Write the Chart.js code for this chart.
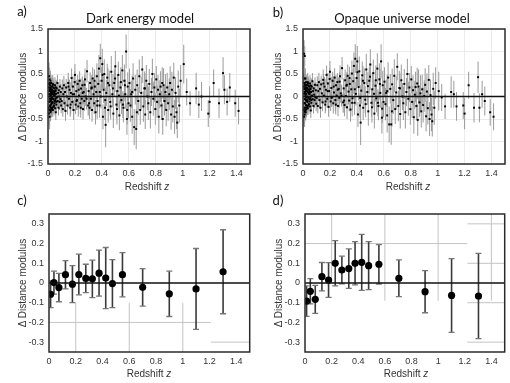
<!DOCTYPE html>
<html>
<head>
<meta charset="utf-8">
<script src="https://cdn.jsdelivr.net/npm/chart.js@4.4.1/dist/chart.umd.min.js"></script>
<style>
  body { margin: 0; background: #fff; width: 510px; height: 383px; position: relative; overflow: hidden;
         font-family: "Liberation Sans", Arial, sans-serif; }
  canvas { position: absolute; }
  .t { position: absolute; transform: translate(-50%, -50%); white-space: nowrap; }
  .panel { font-family: Lato, "Open Sans", sans-serif; font-size: 13px; color: #111; }
  .ax { font-size: 10px; color: #333; }
  .yt { position: absolute; transform: translate(-50%, -50%) rotate(-90deg); white-space: nowrap; font-size: 10px; color: #333; }
</style>
</head>
<body>
<canvas id="ca" width="255" height="190" style="left:0;top:0"></canvas>
<canvas id="cb" width="255" height="190" style="left:255px;top:0"></canvas>
<canvas id="cc" width="255" height="193" style="left:0;top:190px"></canvas>
<canvas id="cd" width="255" height="193" style="left:255px;top:190px"></canvas>

<div class="t panel" style="left:22px;top:11px">a)</div>
<div class="t panel" style="left:140px;top:18px">Dark energy model</div>
<div class="t panel" style="left:278px;top:12px">b)</div>
<div class="t panel" style="left:402px;top:18px">Opaque universe model</div>
<div class="t panel" style="left:22px;top:200px">c)</div>
<div class="t panel" style="left:278px;top:200px">d)</div>

<div class="yt" style="left:22px;top:97px">Δ Distance modulus</div>
<div class="yt" style="left:277px;top:97px">Δ Distance modulus</div>
<div class="yt" style="left:22px;top:283px">Δ Distance modulus</div>
<div class="yt" style="left:278px;top:283px">Δ Distance modulus</div>

<div class="t ax" style="left:147px;top:186px">Redshift <i>z</i></div>
<div class="t ax" style="left:408px;top:186px">Redshift <i>z</i></div>
<div class="t ax" style="left:149px;top:373px">Redshift <i>z</i></div>
<div class="t ax" style="left:406px;top:373px">Redshift <i>z</i></div>

<script>
// tick positions
const zTicks = [0, 0.2, 0.4, 0.6, 0.8, 1, 1.2, 1.4];
const residTicks = [-1.5, -1, -0.5, 0, 0.5, 1, 1.5];
const binTicks = [-0.3, -0.2, -0.1, 0, 0.1, 0.2, 0.3];

// individual supernovae (same objects in both models)
const snZ = [
  0.005,0.006,0.007,0.009,0.010,0.011,0.012,0.013,0.014,0.015,0.016,0.017,0.018,0.019,0.020,0.021,0.022,0.023,0.024,0.025,
  0.026,0.027,0.029,0.031,0.032,0.034,0.036,0.037,0.039,0.041,0.043,0.045,0.047,0.049,0.051,0.053,0.055,0.057,0.059,0.061,
  0.008,0.010,0.011,0.012,0.013,0.014,0.015,0.016,0.017,0.018,0.019,0.020,0.021,0.022,0.023,0.024,0.025,0.026,0.028,0.030,
  0.031,0.033,0.035,0.036,0.038,0.040,0.042,0.044,0.046,0.048,0.050,0.052,0.054,0.056,0.058,0.060,0.062,0.065,0.067,0.070,
  0.072,0.075,0.078,0.080,0.083,0.086,0.089,0.092,0.095,0.098,
  0.102,0.106,0.110,0.114,0.118,0.122,0.126,0.130,0.135,0.140,0.145,0.150,0.155,0.160,0.165,0.170,0.175,0.180,0.185,0.190,
  0.195,0.200,0.205,0.210,0.215,0.220,0.225,0.230,0.235,0.240,0.245,0.250,0.255,0.260,0.265,0.270,0.275,0.280,0.290,0.298,
  0.152,0.168,0.183,0.198,0.212,0.228,0.243,0.258,0.272,0.286,0.305,0.325,0.345,0.365,0.385,0.405,0.425,0.445,0.465,0.482,
  0.498,0.512,0.527,0.541,0.556,0.571,0.588,0.625,0.660,0.720,
  0.302,0.308,0.313,0.318,0.322,0.327,0.332,0.338,0.343,0.348,0.353,0.358,0.363,0.368,0.373,0.378,0.383,0.388,0.393,0.398,
  0.403,0.408,0.413,0.418,0.423,0.428,0.433,0.440,0.447,0.455,0.462,0.470,0.478,0.485,0.492,0.500,0.508,0.515,0.522,0.530,
  0.538,0.545,0.552,0.560,0.567,0.574,0.580,0.586,0.592,0.598,
  0.605,0.612,0.618,0.625,0.632,0.640,0.648,0.655,0.662,0.670,0.678,0.685,0.692,0.700,0.708,0.715,0.722,0.730,0.738,0.745,
  0.752,0.760,0.768,0.775,0.782,0.790,0.797,0.804,0.810,0.817,0.823,0.830,0.836,0.842,0.848,
  0.852,0.858,0.865,0.872,0.878,0.885,0.892,0.900,0.907,0.914,0.920,0.927,0.934,0.940,0.947,0.954,0.960,0.967,0.975,0.985,
  1.008,1.030,1.055,1.100,1.120,1.140,1.190,1.200,1.230,1.270,1.300,1.310,1.330,1.350,1.390,1.415
];
const snErr = [
  0.25,0.30,0.22,0.28,0.20,0.24,0.26,0.22,0.18,0.25,0.20,0.22,0.19,0.24,0.18,0.21,0.20,0.17,0.22,0.19,
  0.18,0.20,0.17,0.19,0.16,0.18,0.17,0.16,0.18,0.17,0.16,0.17,0.15,0.18,0.16,0.17,0.15,0.16,0.17,0.15,
  0.30,0.35,0.25,0.28,0.22,0.32,0.20,0.25,0.18,0.22,0.20,0.24,0.18,0.20,0.19,0.17,0.20,0.18,0.16,0.17,
  0.18,0.16,0.20,0.15,0.17,0.16,0.18,0.15,0.17,0.16,0.15,0.18,0.16,0.15,0.17,0.16,0.15,0.17,0.16,0.18,
  0.15,0.16,0.17,0.15,0.16,0.18,0.17,0.16,0.18,0.17,
  0.18,0.20,0.17,0.19,0.21,0.18,0.20,0.22,0.19,0.21,0.20,0.23,0.19,0.22,0.20,0.24,0.21,0.20,0.23,0.22,
  0.20,0.24,0.21,0.25,0.22,0.20,0.23,0.24,0.21,0.25,0.22,0.24,0.20,0.23,0.26,0.22,0.24,0.21,0.25,0.23,
  0.20,0.22,0.21,0.24,0.20,0.23,0.22,0.25,0.21,0.24,0.26,0.28,0.25,0.30,0.27,0.31,0.28,0.33,0.29,0.32,
  0.30,0.34,0.31,0.33,0.30,0.35,0.32,0.36,0.34,0.35,
  0.22,0.25,0.24,0.27,0.23,0.26,0.25,0.28,0.24,0.26,0.27,0.25,0.29,0.26,0.28,0.30,0.27,0.32,0.26,0.30,
  0.34,0.28,0.30,0.33,0.27,0.50,0.29,0.31,0.28,0.33,0.30,0.35,0.29,0.32,0.30,0.34,0.31,0.36,0.30,0.33,
  0.35,0.31,0.34,0.32,0.36,0.33,0.38,0.35,0.32,0.34,
  0.32,0.36,0.30,0.38,0.34,0.40,0.33,0.45,0.35,0.31,0.37,0.33,0.36,0.30,0.34,0.38,0.32,0.35,0.30,0.37,
  0.33,0.36,0.31,0.34,0.38,0.32,0.35,0.30,0.36,0.33,0.37,0.31,0.34,0.32,0.35,
  0.35,0.38,0.32,0.40,0.36,0.33,0.39,0.35,0.37,0.34,0.40,0.36,0.33,0.38,0.35,0.37,0.34,0.36,0.38,0.35,
  0.43,0.30,0.28,0.35,0.30,0.32,0.30,0.35,0.30,0.33,0.35,0.32,0.30,0.32,0.30,0.30
];
const darkResid = [
  -0.25,0.20,-0.38,0.05,0.28,-0.12,0.38,-0.30,0.15,-0.05,0.25,-0.22,0.00,0.18,-0.32,0.10,-0.08,0.30,-0.18,0.04,
  -0.28,0.16,-0.02,0.22,-0.14,0.08,-0.24,0.26,-0.06,0.12,-0.20,0.02,0.18,-0.10,0.06,-0.26,0.14,-0.04,0.20,-0.12,
  0.45,-0.30,0.12,-0.45,0.30,0.05,-0.20,0.20,-0.10,0.35,-0.35,0.02,0.15,-0.25,0.08,-0.05,0.22,-0.15,0.10,-0.28,
  0.15,-0.12,0.28,-0.30,0.05,-0.05,0.20,-0.22,0.10,-0.15,0.02,0.25,-0.08,0.12,-0.35,0.06,-0.18,0.18,-0.02,0.30,
  -0.10,0.08,-0.25,0.14,0.00,-0.12,0.22,-0.06,0.10,-0.20,
  -0.10,0.18,-0.28,0.05,0.25,-0.15,0.10,-0.32,0.20,0.00,-0.20,0.30,-0.05,0.15,-0.25,0.08,0.41,-0.12,0.22,-0.30,
  0.05,0.48,-0.18,0.12,-0.08,0.28,-0.22,0.02,0.35,-0.15,0.18,-0.05,0.25,-0.28,0.10,-0.10,0.38,0.00,0.56,-0.20,
  0.22,-0.18,0.05,0.32,-0.10,0.15,-0.25,0.08,0.26,-0.05,-0.15,0.20,0.35,-0.20,0.10,0.48,-0.08,0.30,-0.22,0.18,
  0.40,-0.28,0.02,0.32,-0.18,0.25,-0.30,0.10,-0.35,0.18,
  0.12,-0.25,0.30,-0.05,0.18,-0.30,0.40,0.05,-0.15,0.22,-0.35,0.10,0.45,-0.10,0.28,0.62,-0.20,0.85,0.00,0.35,
  0.72,-0.45,0.15,0.50,-0.25,-0.63,0.08,0.42,-0.30,0.25,-0.12,0.55,0.05,-0.38,0.30,0.67,-0.18,0.12,0.48,-0.42,
  0.20,-0.08,0.58,-0.25,0.35,0.05,1.00,-0.50,0.22,-0.15,
  0.30,-0.20,0.05,-0.45,0.40,-0.68,0.15,-0.72,0.25,-0.10,0.45,-0.30,0.08,0.60,-0.22,0.18,-0.40,0.35,0.00,-0.15,
  0.28,-0.35,0.10,0.50,-0.05,0.20,-0.28,0.38,-0.12,0.15,-0.45,0.05,0.22,-0.20,0.30,
  -0.50,0.25,-0.10,0.10,-0.30,0.20,-0.15,0.05,0.30,-0.40,0.15,-0.22,0.42,-0.45,0.08,-0.35,-0.58,0.22,-0.20,0.35,
  0.72,0.10,-0.15,0.18,-0.18,0.00,-0.38,-0.12,0.30,-0.15,0.52,0.15,-0.12,0.20,-0.15,-0.32
];
const opaqueResid = [
  -0.30,0.22,-0.45,0.06,0.30,-0.15,0.40,-0.34,0.16,-0.06,0.27,-0.25,0.01,0.20,-0.35,0.12,-0.08,0.32,-0.19,0.06,
  -0.28,0.18,0.00,0.25,-0.12,0.11,-0.21,0.29,-0.03,0.16,-0.17,0.06,0.22,-0.06,0.10,-0.22,0.18,0.00,0.24,-0.08,
  0.95,-0.25,0.18,-0.40,0.90,0.10,-0.15,0.25,-0.05,0.40,-0.30,0.06,0.20,-0.20,0.12,-0.02,0.26,-0.10,0.14,-0.24,
  0.19,-0.08,0.32,-0.26,0.09,-0.01,0.24,-0.18,0.14,-0.11,0.06,0.29,-0.04,0.16,-0.31,0.10,-0.14,0.22,0.02,0.34,
  -0.06,0.12,-0.21,0.18,0.04,-0.08,0.26,-0.02,0.14,-0.16,
  -0.03,0.25,-0.21,0.12,0.32,-0.08,0.17,-0.25,0.27,0.07,-0.13,0.37,0.02,0.22,-0.18,0.15,0.48,-0.05,0.29,-0.23,
  0.12,0.55,-0.11,0.19,-0.01,0.35,-0.15,0.09,0.42,-0.08,0.25,0.02,0.32,-0.21,0.17,-0.03,0.45,0.07,0.63,-0.13,
  0.29,-0.11,0.12,0.39,-0.03,0.22,-0.18,0.15,0.33,0.02,-0.09,0.26,0.41,-0.14,0.16,0.54,-0.03,0.35,-0.17,0.23,
  0.44,-0.24,0.06,0.36,-0.14,0.28,-0.27,0.12,-0.33,0.18,
  0.18,-0.19,0.36,0.01,0.24,-0.24,0.46,0.11,-0.09,0.28,-0.29,0.16,0.51,-0.04,0.34,0.68,-0.14,0.84,0.06,0.41,
  0.78,-0.40,0.21,0.56,-0.20,-0.58,0.13,0.47,-0.25,0.30,-0.07,0.60,0.10,-0.33,0.35,0.71,-0.14,0.16,0.52,-0.38,
  0.24,-0.04,0.62,-0.21,0.38,0.08,0.78,-0.47,0.25,-0.12,
  0.33,-0.17,0.08,-0.42,0.42,-0.62,0.17,-0.62,0.27,-0.08,0.46,-0.28,0.09,0.66,-0.21,0.19,-0.39,0.36,0.00,-0.15,
  0.28,-0.35,0.10,0.50,-0.05,0.20,-0.28,0.38,-0.12,0.14,-0.46,0.04,0.21,-0.21,0.29,
  -0.52,0.22,-0.13,0.07,-0.33,0.16,-0.19,0.01,0.26,-0.44,0.11,-0.26,0.37,-0.50,0.03,-0.40,-0.55,0.17,-0.25,0.30,
  0.12,-0.02,-0.22,0.10,0.05,-0.22,-0.20,-0.38,0.25,-0.25,0.43,-0.25,0.05,-0.10,-0.35,-0.45
];

// binned residuals
const darkBinZ = [0.012,0.037,0.074,0.123,0.175,0.223,0.275,0.324,0.374,0.424,0.474,0.549,0.700,0.899,1.099,1.301];
const darkBinY = [-0.057,0.002,-0.023,0.042,-0.006,0.043,0.023,0.021,0.050,0.025,-0.003,0.042,-0.022,-0.055,-0.030,0.057];
const darkBinErr = [0.068,0.058,0.072,0.072,0.094,0.103,0.072,0.095,0.117,0.155,0.122,0.112,0.095,0.115,0.205,0.213];

const opaqueBinZ = [0.012,0.040,0.077,0.127,0.177,0.227,0.277,0.329,0.376,0.426,0.478,0.555,0.705,0.902,1.101,1.303];
const opaqueBinY = [-0.092,-0.042,-0.083,0.032,0.015,0.100,0.066,0.073,0.100,0.105,0.088,0.095,0.024,-0.044,-0.063,-0.066];
const opaqueBinErr = [0.077,0.064,0.071,0.072,0.088,0.115,0.070,0.100,0.110,0.142,0.122,0.100,0.093,0.107,0.187,0.216];

// leftover partial grid segments in the binned panels [x1, y1, x2, y2]
const cGridSegs = [[0.2,-0.1,0.2,-0.35],[0.6,-0.1,0.6,-0.35],[1,-0.1,1,-0.35],[0,-0.2,1.21,-0.2],[1.21,-0.3,1.5,-0.3]];
const dGridSegs = [[0.2,0,0.2,0.35],[0.6,-0.09,0.6,0.35],[1,-0.09,1,0.35],[1.4,-0.09,1.4,0.35],
  [0,0.2,1.22,0.2],[1.22,0.3,1.5,0.3],[1.22,0.1,1.5,0.1],[1.22,-0.1,1.5,-0.1],[1.22,-0.3,1.5,-0.3]];

const fmt = v => String(Math.round(v * 10) / 10);
const tickFont = { family: '"Liberation Sans", Arial, sans-serif', size: 9 };

// frame, zero line and the odd partial grid
const framePlugin = {
  id: 'frame',
  beforeDatasetsDraw(chart, args, opts) {
    const { ctx, scales: { x, y } } = chart;
    ctx.save();
    ctx.strokeStyle = '#c4c4c4';
    ctx.lineWidth = 1;
    (opts.segments || []).forEach(s => {
      ctx.beginPath();
      ctx.moveTo(x.getPixelForValue(s[0]), y.getPixelForValue(s[1]));
      ctx.lineTo(x.getPixelForValue(s[2]), y.getPixelForValue(s[3]));
      ctx.stroke();
    });
    ctx.restore();
  },
  afterDatasetsDraw(chart) {
    const { ctx, chartArea: a, scales: { y } } = chart;
    ctx.save();
    const y0 = y.getPixelForValue(0);
    ctx.strokeStyle = '#111';
    ctx.lineWidth = 1.6;
    ctx.beginPath(); ctx.moveTo(a.left, y0); ctx.lineTo(a.right, y0); ctx.stroke();
    ctx.strokeStyle = '#2b2b2b';
    ctx.lineWidth = 1.5;
    ctx.strokeRect(a.left, a.top, a.right - a.left, a.bottom - a.top);
    ctx.restore();
  }
};

function scalesFor(yTicks, yMin, yMax, yWidth, xHeight, gridColor) {
  return {
    x: {
      type: 'linear', min: 0, max: 1.5, offset: false,
      afterBuildTicks: s => { s.ticks = zTicks.map(v => ({ value: v })); },
      afterFit: s => { s.height = xHeight; },
      ticks: { font: tickFont, color: '#333', padding: 4, maxRotation: 0, autoSkip: false, callback: v => fmt(v) },
      grid: { color: gridColor, drawTicks: false, offset: false },
      border: { display: false }
    },
    y: {
      type: 'linear', min: yMin, max: yMax,
      afterBuildTicks: s => { s.ticks = yTicks.map(v => ({ value: v })); },
      afterFit: s => { s.width = yWidth; },
      ticks: { font: tickFont, color: '#333', padding: 5, autoSkip: false, callback: v => fmt(v) },
      grid: { color: gridColor, drawTicks: false },
      border: { display: false }
    }
  };
}

function residChart(id, resid, yWidth) {
  const pts = snZ.map((z, i) => ({ x: z, y: resid[i] }));
  const bars = snZ.map((z, i) => ({ x: z, y: [resid[i] - snErr[i], resid[i] + snErr[i]] }));
  return new Chart(document.getElementById(id), {
    type: 'scatter',
    data: {
      datasets: [
        { type: 'scatter', data: pts, pointStyle: 'rect', pointRadius: 1.4, backgroundColor: '#000', borderWidth: 0, order: 0 },
        { type: 'bar', data: bars, barThickness: 1, inflateAmount: 0, backgroundColor: '#9a9a9a', borderWidth: 0, order: 1 }
      ]
    },
    options: {
      responsive: false, animation: false, events: [],
      layout: { padding: { top: 29, right: 5, left: 0, bottom: 0 } },
      plugins: { legend: { display: false }, tooltip: { enabled: false }, frame: {} },
      scales: scalesFor(residTicks, -1.5, 1.5, yWidth, 26, '#ebebeb')
    },
    plugins: [framePlugin]
  });
}

function binChart(id, zs, ys, errs, yWidth, segs) {
  const pts = zs.map((z, i) => ({ x: z, y: ys[i] }));
  const bars = zs.map((z, i) => ({ x: z, y: [ys[i] - errs[i], ys[i] + errs[i]] }));
  const tops = zs.map((z, i) => ({ x: z, y: ys[i] + errs[i] }));
  const lows = zs.map((z, i) => ({ x: z, y: ys[i] - errs[i] }));
  const cap = { type: 'scatter', pointStyle: 'line', pointRadius: 3, borderColor: '#777', borderWidth: 1.3, order: 1 };
  return new Chart(document.getElementById(id), {
    type: 'scatter',
    data: {
      datasets: [
        { type: 'scatter', data: pts, pointStyle: 'circle', pointRadius: 3.6, backgroundColor: '#000', borderWidth: 0, order: 0 },
        Object.assign({ data: tops }, cap),
        Object.assign({ data: lows }, cap),
        { type: 'bar', data: bars, barThickness: 1.6, inflateAmount: 0, backgroundColor: '#3a3a3a', borderWidth: 0, order: 2 }
      ]
    },
    options: {
      responsive: false, animation: false, events: [],
      layout: { padding: { top: 24, right: 5, left: 0, bottom: 0 } },
      plugins: { legend: { display: false }, tooltip: { enabled: false }, frame: { segments: segs } },
      scales: scalesFor(binTicks, -0.35, 0.35, yWidth, 31, 'rgba(0,0,0,0)')
    },
    plugins: [framePlugin]
  });
}

residChart('ca', darkResid, 48);
residChart('cb', opaqueResid, 48);
binChart('cc', darkBinZ, darkBinY, darkBinErr, 49, cGridSegs);
binChart('cd', opaqueBinZ, opaqueBinY, opaqueBinErr, 50, dGridSegs);
</script>
</body>
</html>
